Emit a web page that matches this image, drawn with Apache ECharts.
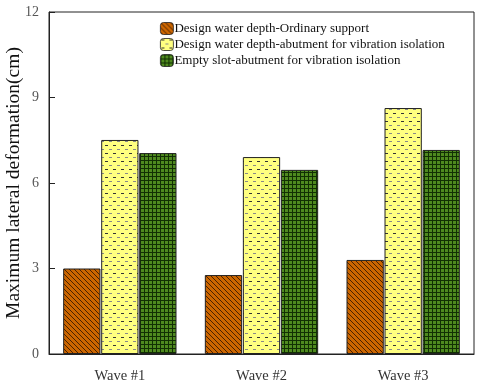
<!DOCTYPE html>
<html>
<head>
<meta charset="utf-8">
<script src="https://cdn.jsdelivr.net/npm/echarts@6/dist/echarts.min.js"></script>
<style>
  html, body { margin: 0; padding: 0; background: #fff; }
  #chart { width: 480px; height: 388px; }
</style>
</head>
<body>
<div id="chart"></div>
<script>
// data
const categories = ['Wave #1', 'Wave #2', 'Wave #3']
const seriesNames = [
  'Design water depth-Ordinary support',
  'Design water depth-abutment for vibration isolation',
  'Empty slot-abutment for vibration isolation'
]
const ordinarySupport = [3.0, 2.77, 3.3]
const abutmentDesign = [7.51, 6.91, 8.63]
const abutmentEmpty = [7.05, 6.46, 7.16]
const yTicks = [0, 3, 6, 9, 12]

const FONT = '"Liberation Serif", "DejaVu Serif", serif'

// fill textures
const makePattern = (size, draw) => {
  const c = document.createElement('canvas')
  c.width = size
  c.height = size
  draw(c.getContext('2d'), size)
  return { image: c, repeat: 'repeat' }
}

const hatchOrange = makePattern(5, (ctx, s) => {
  ctx.fillStyle = '#cc6600'
  ctx.fillRect(0, 0, s, s)
  ctx.strokeStyle = '#3a1a00'
  ctx.lineWidth = 0.9
  for (let k = -1; k <= 1; k++) {
    ctx.beginPath()
    ctx.moveTo(k * s, 0)
    ctx.lineTo(k * s + s, s)
    ctx.stroke()
  }
})

const dashYellow = makePattern(8, (ctx, s) => {
  ctx.fillStyle = '#ffff80'
  ctx.fillRect(0, 0, s, s)
  ctx.fillStyle = '#333'
  ctx.fillRect(1, 1, 3, 1)
  ctx.fillStyle = '#888'
  ctx.fillRect(5, 5, 3, 1)
})

const gridGreen = makePattern(4, (ctx, s) => {
  ctx.fillStyle = '#4f8a1f'
  ctx.fillRect(0, 0, s, s)
  ctx.fillStyle = '#123003'
  ctx.fillRect(0, 0, s, 1)
  ctx.fillRect(0, 0, 1, s)
})

const fills = [hatchOrange, dashYellow, gridGreen]
const values = [ordinarySupport, abutmentDesign, abutmentEmpty]

const chart = echarts.init(document.getElementById('chart'))

chart.setOption({
  animation: false,
  textStyle: { fontFamily: FONT },
  grid: {
    left: 49, top: 12, right: 6, bottom: 34,
    outerBoundsMode: 'none',
    containLabel: false,
    show: true, borderColor: '#222', borderWidth: 1
  },
  legend: {
    data: seriesNames,
    orient: 'vertical',
    left: 155,
    top: 17,
    itemWidth: 13,
    itemHeight: 12,
    itemGap: 3,
    itemStyle: { borderColor: '#222', borderWidth: 0.8 },
    textStyle: { fontFamily: FONT, fontSize: 13, color: '#111', padding: [0, 0, 0, -4] }
  },
  xAxis: {
    type: 'category',
    data: categories,
    axisLine: { lineStyle: { color: '#222', width: 1 } },
    axisTick: { alignWithLabel: true, length: 5, lineStyle: { color: '#555' } },
    axisLabel: { fontFamily: FONT, fontSize: 14.5, color: '#333', margin: 15 }
  },
  yAxis: {
    type: 'value',
    min: yTicks[0],
    max: yTicks[yTicks.length - 1],
    interval: 3,
    name: 'Maximum lateral deformation(cm)',
    nameLocation: 'middle',
    nameGap: 25,
    nameMoveOverlap: false,
    nameTextStyle: { fontFamily: FONT, fontSize: 19.5, color: '#111' },
    axisLine: { show: true, lineStyle: { color: '#222', width: 1 } },
    axisTick: { show: true, inside: true, length: 6, lineStyle: { color: '#222' } },
    axisLabel: { fontFamily: FONT, fontSize: 14, color: '#555', margin: 10 },
    splitLine: { show: false }
  },
  series: seriesNames.map((name, i) => ({
    name,
    type: 'bar',
    data: values[i],
    barGap: '2%',
    barCategoryGap: '20%',
    itemStyle: { color: fills[i], borderColor: '#222', borderWidth: 1 }
  }))
})
</script>
</body>
</html>
